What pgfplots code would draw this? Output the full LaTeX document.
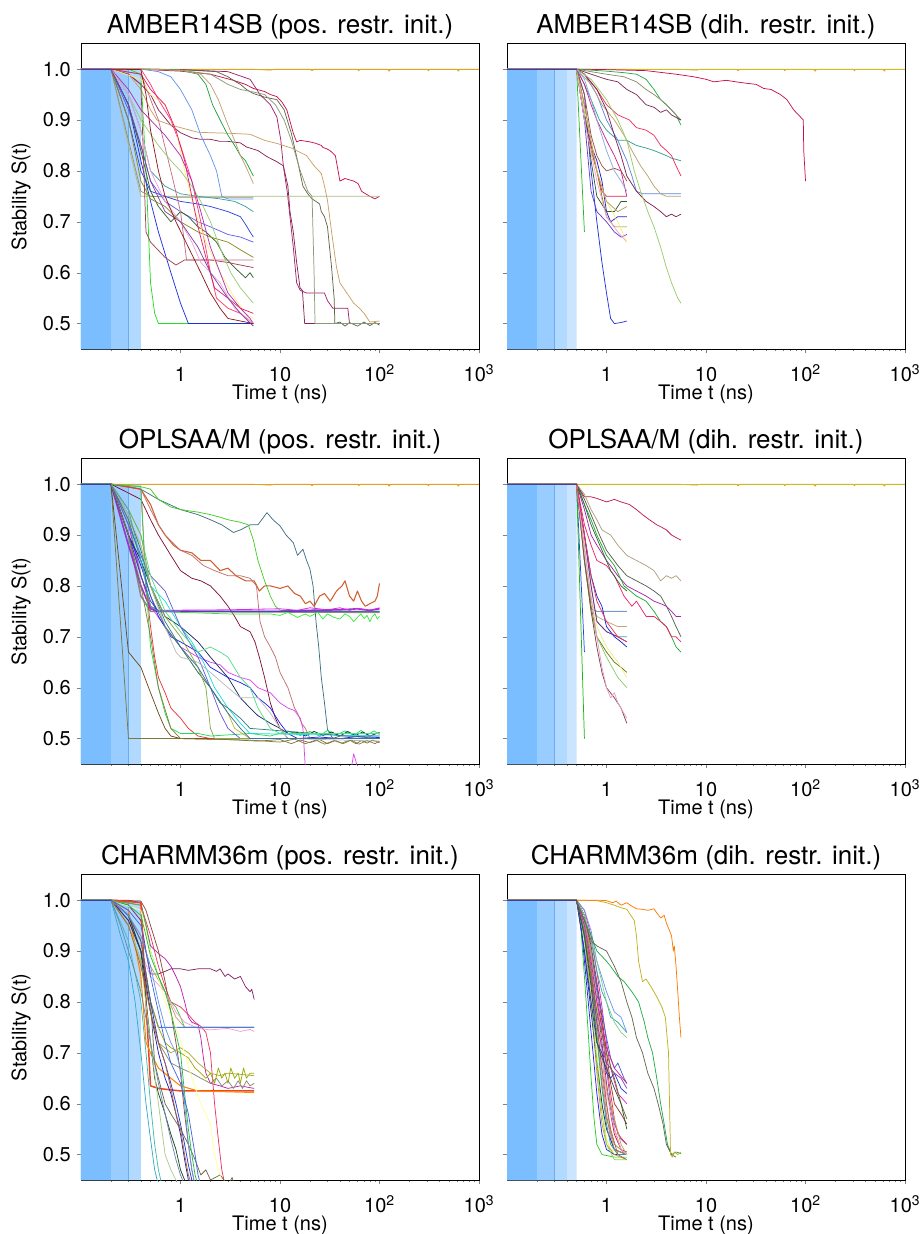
\documentclass[border=0pt]{standalone}
\usepackage{fontspec}
\setmainfont{TeX Gyre Heros}
\usepackage{pgfplots}
\pgfplotsset{compat=1.18}
\definecolor{bA}{HTML}{7ABEFF}
\definecolor{bB}{HTML}{99CCFF}
\definecolor{bC}{HTML}{B2D9FF}
\definecolor{bD}{HTML}{CCE5FF}
\definecolor{bE}{HTML}{6AAEF0}
\pgfplotsset{
  scale only axis, width=298.5pt, height=229pt,
  xmin=0.1, xmax=1000, ymin=0.45, ymax=1.05,
  xtick={1,10,100,1000}, xticklabels={1,10,10\textsuperscript{2},10\textsuperscript{3}},
  minor xtick={0.2,0.3,0.4,0.5,0.6,0.7,0.8,0.9,2,3,4,5,6,7,8,9,20,30,40,50,60,70,80,90,200,300,400,500,600,700,800,900},
  ytick={0.5,0.6,0.7,0.8,0.9,1.0},
  tick align=outside, tick pos=left,
  major tick length=3.2pt, minor tick length=1.8pt,
  axis line style={black, line width=0.6pt},
  tick label style={font=\fontsize{15}{18}\selectfont},
  xticklabel style={anchor=base, inner sep=0pt, yshift=-21pt},
  yticklabel style={anchor=east, xshift=-1pt},
  label style={font=\fontsize{15}{18}\selectfont},
  xlabel={Time t (ns)},
  xlabel style={at={(axis description cs:0.5,0)}, anchor=base, inner sep=0pt, yshift=-37.5pt},
  ylabel style={at={(axis description cs:0,0.5)}, anchor=center, yshift=45pt},
  title style={font=\fontsize{19.5}{23}\selectfont, at={(axis description cs:0.5,1)}, anchor=base, yshift=1.5pt},
  every axis plot/.append style={line width=0.55pt, line join=round},
  no markers,
}
\newcommand{\bandsPos}{%
 \addplot[draw=none, fill=bC] coordinates {(0.1,0.45) (0.1,1) (0.4,1) (0.4,0.45) (0.1,0.45)};
 \addplot[draw=none, fill=bB] coordinates {(0.1,0.45) (0.1,1) (0.3,1) (0.3,0.45) (0.1,0.45)};
 \addplot[draw=none, fill=bA] coordinates {(0.1,0.45) (0.1,1) (0.2,1) (0.2,0.45) (0.1,0.45)};
 \addplot[color=bE, line width=0.5pt] coordinates {(0.3,0.45) (0.3,1)};
}
\newcommand{\bandsDih}{%
 \addplot[draw=none, fill=bD] coordinates {(0.1,0.45) (0.1,1) (0.5,1) (0.5,0.45) (0.1,0.45)};
 \addplot[draw=none, fill=bC] coordinates {(0.1,0.45) (0.1,1) (0.4,1) (0.4,0.45) (0.1,0.45)};
 \addplot[draw=none, fill=bB] coordinates {(0.1,0.45) (0.1,1) (0.3,1) (0.3,0.45) (0.1,0.45)};
 \addplot[draw=none, fill=bA] coordinates {(0.1,0.45) (0.1,1) (0.2,1) (0.2,0.45) (0.1,0.45)};
 \addplot[color=bE, line width=0.5pt] coordinates {(0.3,0.45) (0.3,1)};
}
\definecolor{flatA}{HTML}{DAA520}
\definecolor{flatB}{HTML}{C8C020}
\definecolor{flatO}{HTML}{FF8C00}
\newcommand{\flatlines}[1]{%
 \addplot[color=flatO] coordinates {(0.1,1) (5,1) (8,0.998) (9,1) (20,1) (21,0.997) (22,1) (60,1) (62,0.997) (64,1) (120,1) (125,0.996) (130,1) (300,1) (310,0.997) (320,1) (600,1) (620,0.996) (640,1) (1000,1)};
 \addplot[color=#1, line width=0.9pt] coordinates {(0.1,1) (1000,1)};
}
\newcommand{\C}[2]{\definecolor{c#1}{HTML}{#1}\addplot[color=c#1] coordinates {#2};}
\newcommand{\CT}[3]{\definecolor{c#1}{HTML}{#1}\addplot[color=c#1, line width=#3] coordinates {#2};}
\begin{document}
\begin{tikzpicture}
\useasboundingbox (0,0) rectangle (690.75pt,-925.5pt);
% ================= AMBER pos =================
\begin{semilogxaxis}[ylabel={Stability S(t)}, yticklabels={0.5,0.6,0.7,0.8,0.9,1.0}, at={(60.75pt,-261.75pt)}, anchor=south west, title={AMBER14SB (pos. restr. init.)}]
\bandsPos
\flatlines{flatA}
\C{C8104E}{(0.1,1)(0.2,1)(0.4,1)(0.6,0.998)(1,0.996)(2,0.99)(3.4,0.978)(4.5,0.97)(5.4,0.962)(7,0.956)(8,0.95)(9.3,0.946)(10.5,0.935)(11.7,0.92)(12.5,0.9)(13.6,0.874)(14.7,0.857)(16,0.86)(20,0.857)(23,0.854)(26,0.85)(27,0.846)(29,0.844)(31.8,0.84)(36,0.83)(40,0.78)(45,0.785)(55,0.78)(61,0.775)(66,0.76)(71,0.756)(80,0.75)(90,0.745)(100,0.75)}
\C{8B2252}{(0.1,1)(0.2,1)(0.3,0.99)(0.4,0.97)(0.5,0.95)(0.6,0.92)(0.8,0.89)(1,0.875)(1.3,0.865)(1.6,0.862)(2,0.862)(2.5,0.858)(3,0.858)(4,0.855)(4.6,0.847)(6,0.84)(7.4,0.828)(9.3,0.818)(10.8,0.81)(12,0.77)(12.6,0.72)(13.6,0.68)(14.7,0.62)(15.9,0.57)(16.8,0.565)(17.7,0.5)(30,0.5)(100,0.5)}
\C{A0206A}{(0.1,1)(0.2,1)(0.4,1)(1,0.999)(3,0.995)(5,0.98)(6.3,0.95)(8,0.93)(9.3,0.906)(10.2,0.86)(10.8,0.81)(11.8,0.76)(12.6,0.71)(13.6,0.65)(14.7,0.58)(16,0.565)(18.5,0.56)(22,0.56)(28,0.56)(30,0.545)(34,0.53)(40,0.53)(48,0.53)(50,0.5)(100,0.5)}
\C{5E6648}{(0.1,1)(0.2,1)(0.4,1)(1,0.999)(2.3,0.995)(3,0.985)(3.6,0.975)(4,0.97)(4.6,0.96)(5.4,0.952)(7,0.945)(9.3,0.94)(11,0.92)(13,0.874)(15,0.82)(17,0.77)(19,0.755)(21,0.745)(23,0.74)(25,0.735)(26,0.72)(28,0.71)(30,0.69)(33,0.61)(35,0.55)(35.6,0.5)(40,0.503)(45,0.495)(50,0.502)(60,0.495)(70,0.503)(80,0.496)(90,0.502)(100,0.497)}
\C{8A9A78}{(0.1,1)(0.2,1)(0.4,1)(1,0.998)(2,0.99)(3,0.97)(4,0.96)(5.4,0.955)(7,0.95)(9,0.93)(11,0.9)(13,0.86)(16,0.8)(19,0.76)(21,0.75)(22,0.6)(22.5,0.5)(100,0.5)}
\C{C8A064}{(0.1,1)(0.2,1)(0.3,0.99)(0.4,0.96)(0.5,0.92)(0.58,0.9)(0.8,0.89)(1,0.885)(1.5,0.876)(2,0.875)(3,0.874)(5,0.872)(7,0.86)(9.3,0.854)(13,0.845)(18.5,0.83)(22,0.81)(26,0.795)(28,0.77)(30,0.742)(33,0.68)(37,0.61)(40,0.58)(47,0.56)(55,0.54)(63,0.53)(70,0.52)(80,0.503)(100,0.505)}
\C{A8BC84}{(0.1,1)(0.2,1)(0.3,0.85)(0.4,0.75)(1,0.75)(10,0.75)(100,0.75)}
\C{9C8C6C}{(0.1,1)(0.2,1)(0.3,0.86)(0.4,0.76)(0.5,0.75)(1,0.748)(5.4,0.748)}
\C{22DD22}{(0.1,1)(0.2,1)(0.3,1)(0.4,0.99)(0.45,0.8)(0.5,0.58)(0.55,0.52)(0.6,0.5)(5.4,0.5)}
\C{1E2EDD}{(0.1,1)(0.2,1)(0.3,0.93)(0.4,0.82)(0.5,0.74)(0.6,0.68)(0.8,0.6)(1,0.54)(1.2,0.5)(5.4,0.5)}
\C{3040E0}{(0.1,1)(0.2,1)(0.3,0.9)(0.4,0.8)(0.5,0.76)(0.7,0.75)(1,0.74)(1.5,0.735)(2,0.73)(3,0.72)(4,0.71)(4.5,0.695)(5,0.68)(5.4,0.67)}
\C{6060EE}{(0.1,1)(0.2,1)(0.3,0.92)(0.4,0.85)(0.5,0.78)(0.7,0.74)(1,0.72)(1.5,0.7)(2,0.69)(3,0.675)(4,0.67)(5.4,0.66)}
\C{3AA0A0}{(0.1,1)(0.2,1)(0.3,0.95)(0.4,0.88)(0.5,0.8)(0.7,0.77)(1,0.755)(1.5,0.75)(2.5,0.745)(3.5,0.74)(4.5,0.73)(5.4,0.72)}
\C{2F5F2F}{(0.1,1)(0.2,1)(0.3,0.93)(0.4,0.84)(0.5,0.76)(0.6,0.73)(0.8,0.7)(1,0.72)(1.2,0.71)(1.5,0.69)(1.8,0.68)(2.3,0.66)(2.8,0.63)(3.5,0.61)(4.5,0.59)(5,0.6)(5.4,0.59)}
\C{8A8A20}{(0.1,1)(0.2,1)(0.3,0.9)(0.4,0.78)(0.5,0.745)(0.7,0.73)(1,0.7)(1.5,0.68)(2,0.67)(3,0.66)(4,0.645)(5.4,0.63)}
\C{A04050}{(0.1,1)(0.2,1)(0.3,0.99)(0.4,0.97)(0.45,0.68)(0.5,0.66)(0.7,0.63)(0.9,0.615)(1.1,0.625)(2,0.625)(3,0.62)(4,0.615)(5.4,0.61)}
\C{C07080}{(0.1,1)(0.2,1)(0.4,0.99)(0.6,0.9)(0.8,0.8)(1,0.72)(1.15,0.625)(5.4,0.625)}
\C{6495ED}{(0.1,1)(0.2,1)(0.4,1)(0.6,0.995)(0.8,0.985)(1,0.96)(1.3,0.92)(1.6,0.87)(2,0.83)(2.3,0.8)(2.6,0.75)(3,0.745)(5.4,0.745)}
\C{20A040}{(0.1,1)(0.2,1)(0.4,1)(1,0.998)(1.5,0.99)(1.8,0.97)(2.1,0.93)(2.5,0.9)(3,0.87)(3.5,0.85)(4,0.83)(4.5,0.82)(5.4,0.79)}
\C{C0A070}{(0.1,1)(0.2,1)(0.4,1)(1,0.998)(1.6,0.99)(2,0.97)(2.4,0.94)(3,0.89)(3.5,0.86)(4,0.83)(4.5,0.81)(5.4,0.775)}
\C{FF3A70}{(0.1,1)(0.2,1)(0.4,1)(0.5,0.97)(0.6,0.94)(0.8,0.9)(1,0.85)(1.3,0.78)(1.6,0.7)(2,0.6)(2.3,0.55)(3,0.53)(4,0.52)(5.4,0.5)}
\C{F8EE80}{(0.1,1)(0.2,1)(0.4,0.98)(0.5,0.95)(0.7,0.93)(0.9,0.88)(1.1,0.8)(1.4,0.72)(1.8,0.66)(2.5,0.6)(3.5,0.55)(4.5,0.52)(5.4,0.51)}
\C{99CC77}{(0.1,1)(0.2,1)(0.3,0.95)(0.4,0.9)(0.6,0.85)(0.8,0.82)(1,0.8)(1.3,0.77)(1.6,0.74)(2,0.7)(2.6,0.64)(3.2,0.6)(4,0.57)(5.4,0.54)}
\C{B030B0}{(0.1,1)(0.2,1)(0.3,0.96)(0.4,0.92)(0.5,0.9)(0.7,0.87)(1,0.83)(1.3,0.78)(1.6,0.72)(2,0.65)(2.5,0.6)(3,0.56)(4,0.53)(5,0.51)(5.4,0.5)}
\C{E02070}{(0.1,1)(0.2,1)(0.4,0.99)(0.5,0.96)(0.7,0.93)(0.9,0.88)(1.1,0.82)(1.3,0.75)(1.5,0.69)(1.8,0.63)(2.2,0.57)(3,0.55)(4,0.53)(5.4,0.52)}
\C{F0A0E0}{(0.1,1)(0.2,1)(0.3,0.95)(0.4,0.88)(0.5,0.8)(0.7,0.74)(1,0.7)(1.3,0.66)(1.6,0.62)(2,0.6)(2.5,0.58)(3.5,0.53)(5.4,0.5)}
\C{8040A0}{(0.1,1)(0.2,1)(0.3,0.93)(0.4,0.85)(0.5,0.78)(0.7,0.72)(1,0.7)(1.5,0.65)(2,0.6)(3,0.55)(4,0.52)(5.4,0.495)}
\C{8B1A1A}{(0.1,1)(0.2,1)(0.4,0.999)(0.45,0.95)(0.5,0.88)(0.6,0.8)(0.7,0.75)(0.9,0.7)(1.2,0.65)(1.6,0.6)(2,0.56)(2.5,0.53)(3,0.51)(5.4,0.5)}
\CT{40409A}{(0.1,1)(0.2,1)}{0.9pt}
\end{semilogxaxis}
% ================= AMBER dih =================
\begin{semilogxaxis}[yticklabels={}, at={(380.25pt,-261.75pt)}, anchor=south west, title={AMBER14SB (dih. restr. init.)}]
\bandsDih
\flatlines{flatB}
\C{C8104E}{(0.1,1)(0.5,1)(1,0.999)(2.5,0.997)(5,0.99)(7.5,0.985)(10,0.98)(12,0.975)(16,0.978)(20,0.975)(26,0.972)(32,0.97)(38,0.962)(45,0.96)(56,0.95)(65,0.94)(76,0.92)(85,0.91)(92,0.903)(95,0.9)(96,0.84)(98,0.81)(100,0.78)}
\C{22AA44}{(0.1,1)(0.5,1)(0.7,0.998)(1,0.996)(1.5,0.993)(2,0.99)(2.5,0.98)(3,0.96)(3.5,0.94)(4,0.93)(4.5,0.92)(5,0.91)(5.6,0.89)}
\C{8B8B6B}{(0.1,1)(0.5,1)(0.7,0.995)(1,0.99)(1.5,0.985)(2,0.975)(2.5,0.96)(3,0.95)(3.5,0.94)(4,0.93)(5,0.91)(5.6,0.9)}
\C{7B2D5B}{(0.1,1)(0.5,1)(0.7,0.99)(1,0.98)(1.3,0.975)(1.6,0.96)(2,0.95)(2.5,0.93)(3,0.925)(3.5,0.915)(4,0.92)(4.5,0.91)(5,0.905)(5.6,0.9)}
\C{30A090}{(0.1,1)(0.5,1)(0.6,0.97)(0.7,0.94)(0.85,0.9)(1,0.88)(1.3,0.86)(1.6,0.86)(2,0.85)(2.5,0.845)(3,0.84)(4,0.83)(4.5,0.825)(5.6,0.82)}
\C{F03060}{(0.1,1)(0.5,1)(0.6,0.99)(0.8,0.96)(1,0.93)(1.3,0.91)(1.7,0.9)(2,0.885)(2.5,0.88)(3,0.87)(3.5,0.85)(4,0.84)(4.5,0.83)(5,0.81)(5.6,0.79)}
\C{5588DD}{(0.1,1)(0.5,1)(0.6,0.99)(0.8,0.95)(1,0.9)(1.3,0.86)(1.6,0.82)(1.8,0.79)(2,0.76)(2.3,0.755)(3,0.755)(4,0.755)(5.6,0.755)}
\C{BBA070}{(0.1,1)(0.5,1)(0.7,0.97)(0.9,0.93)(1.2,0.9)(1.5,0.87)(1.8,0.84)(2.2,0.81)(2.6,0.79)(3,0.77)(3.5,0.755)(4,0.75)(5.6,0.75)}
\C{802050}{(0.1,1)(0.5,1)(0.6,0.99)(0.8,0.96)(1,0.92)(1.2,0.87)(1.4,0.83)(1.6,0.79)(2,0.76)(2.5,0.74)(3,0.73)(3.5,0.72)(4,0.71)(4.5,0.715)(5,0.71)(5.6,0.715)}
\C{99CC66}{(0.1,1)(0.5,1)(0.7,0.98)(1,0.94)(1.3,0.9)(1.6,0.86)(1.9,0.8)(2.2,0.76)(2.6,0.72)(3,0.69)(3.5,0.65)(4,0.61)(4.5,0.58)(5.2,0.55)(5.6,0.54)}
\C{2233DD}{(0.1,1)(0.5,1)(0.6,0.95)(0.7,0.8)(0.8,0.7)(0.9,0.62)(1,0.56)(1.1,0.51)(1.2,0.5)(1.4,0.502)(1.6,0.505)}
\C{22BB22}{(0.1,1)(0.5,1)(0.6,0.68)}
\C{2020CC}{(0.1,1)(0.5,1)(0.6,0.9)(0.7,0.85)(0.8,0.82)(0.9,0.78)(1,0.72)(1.1,0.7)(1.3,0.71)(1.6,0.71)}
\C{808000}{(0.1,1)(0.5,1)(0.6,0.9)(0.7,0.84)(0.8,0.8)(0.9,0.75)(1,0.71)(1.2,0.69)(1.4,0.69)(1.6,0.69)}
\C{DD2255}{(0.1,1)(0.5,1)(0.6,0.93)(0.7,0.85)(0.8,0.8)(0.9,0.76)(1,0.75)(1.6,0.75)}
\C{2F5F2F}{(0.1,1)(0.5,1)(0.6,0.92)(0.7,0.82)(0.8,0.75)(1,0.72)(1.2,0.72)(1.4,0.74)(1.6,0.74)}
\C{6040CC}{(0.1,1)(0.5,1)(0.6,0.9)(0.7,0.76)(0.8,0.72)(1,0.7)(1.2,0.68)(1.4,0.67)(1.6,0.675)}
\C{FFA0D0}{(0.1,1)(0.5,1)(0.6,0.9)(0.8,0.78)(1,0.71)(1.3,0.68)(1.6,0.66)}
\C{F8EE80}{(0.1,1)(0.5,1)(0.6,0.92)(0.7,0.86)(0.8,0.8)(1,0.74)(1.3,0.7)(1.6,0.66)}
\C{994F44}{(0.1,1)(0.5,1)(0.6,0.95)(0.7,0.87)(0.8,0.83)(0.9,0.81)(1,0.8)(1.2,0.805)(1.4,0.8)(1.6,0.78)}
\C{B0A060}{(0.1,1)(0.5,1)(0.6,0.93)(0.7,0.86)(0.8,0.8)(1,0.74)(1.3,0.72)(1.6,0.73)}
\C{CC2288}{(0.1,1)(0.5,1)(0.6,0.97)(0.7,0.93)(0.8,0.9)(1,0.86)(1.2,0.83)(1.4,0.8)(1.6,0.75)}
\C{88AADD}{(0.1,1)(0.5,1)(0.6,0.98)(0.7,0.94)(0.8,0.9)(1,0.84)(1.2,0.8)(1.4,0.78)(1.6,0.76)}
\CT{40409A}{(0.1,1)(0.5,1)}{0.9pt}
\end{semilogxaxis}
% ================= OPLS pos =================
\begin{semilogxaxis}[ylabel={Stability S(t)}, yticklabels={0.5,0.6,0.7,0.8,0.9,1.0}, at={(60.75pt,-573pt)}, anchor=south west, title={OPLSAA/M (pos. restr. init.)}]
\bandsPos
\flatlines{flatA}
\C{3D6E80}{(0.1,1)(0.2,1)(0.3,0.995)(0.4,0.99)(0.6,0.97)(1,0.95)(1.5,0.94)(2,0.93)(2.6,0.92)(3.4,0.905)(4,0.91)(5,0.92)(6,0.92)(7.4,0.944)(8.5,0.93)(10,0.918)(11.5,0.9)(13.6,0.885)(15,0.86)(17,0.872)(18.5,0.85)(20,0.833)(21.5,0.8)(23,0.73)(24.5,0.68)(26,0.62)(28,0.57)(30,0.518)(34,0.5)(40,0.505)(100,0.505)}
\C{44CC22}{(0.1,1)(0.2,1)(0.4,0.995)(0.5,0.99)(0.6,0.97)(0.8,0.955)(1,0.95)(1.5,0.945)(2,0.94)(2.5,0.935)(3,0.93)(4,0.925)(4.8,0.92)(5.4,0.89)(6,0.85)(7,0.81)(8,0.78)(9,0.76)(10,0.752)(20,0.75)(100,0.75)}
\CT{D06030}{(0.1,1)(0.2,1)(0.4,0.99)(0.5,0.96)(0.6,0.92)(0.7,0.9)(0.85,0.88)(1,0.87)(1.3,0.865)(1.6,0.85)(2,0.85)(2.5,0.83)(3,0.835)(3.6,0.82)(4.5,0.81)(5.5,0.81)(6.2,0.79)(7,0.8)(8,0.8)(10,0.795)(12,0.8)(14,0.785)(16,0.78)(18,0.765)(20,0.77)(22,0.76)(25,0.78)(28,0.785)(32,0.77)(37,0.79)(42,0.8)(45,0.81)(50,0.78)(55,0.77)(60,0.79)(66,0.77)(72,0.76)(80,0.765)(90,0.77)(95,0.78)(100,0.805)}{0.8pt}
\C{C07070}{(0.1,1)(0.2,1)(0.4,0.99)(0.5,0.95)(0.6,0.92)(0.7,0.9)(1,0.87)(1.3,0.86)(1.7,0.84)(2.2,0.83)(3,0.82)(4,0.82)(5,0.815)(5.8,0.8)(6.3,0.73)(7,0.7)(8,0.68)(9,0.66)(10,0.63)(12,0.6)(14,0.56)(15,0.55)(16.5,0.53)(18,0.52)(20,0.5)(100,0.5)}
\C{801030}{(0.1,1)(0.2,1)(0.4,0.97)(0.5,0.93)(0.6,0.9)(0.8,0.86)(1,0.83)(1.3,0.815)(1.6,0.81)(2,0.8)(2.5,0.78)(3,0.76)(3.5,0.74)(4,0.72)(5,0.71)(5.6,0.69)(6.2,0.66)(7,0.62)(8,0.57)(9,0.54)(10,0.52)(12,0.5)(100,0.5)}
\C{DD44EE}{(0.1,1)(0.2,1)(0.3,0.9)(0.4,0.82)(0.5,0.76)(0.7,0.72)(1,0.68)(1.5,0.66)(2,0.65)(2.5,0.645)(3,0.63)(4,0.62)(5,0.615)(6,0.6)(8,0.59)(10,0.57)(12,0.56)(14,0.555)(16,0.54)(17,0.52)(17.5,0.48)(18,0.44)(30,0.40)(50,0.42)(55,0.47)(58,0.455)(62,0.43)(100,0.41)}
\CT{888888}{(0.1,1)(0.2,1)(0.3,0.9)(0.4,0.78)(0.5,0.75)(100,0.748)}{1.2pt}
\C{33EE33}{(0.1,1)(0.2,1)(0.3,0.93)(0.4,0.82)(0.5,0.76)(0.6,0.75)(1,0.748)(3,0.745)(8,0.745)(10,0.742)(12,0.748)(15,0.738)(18,0.745)(20,0.74)(24,0.748)(27,0.735)(30,0.745)(35,0.738)(40,0.735)(45,0.745)(50,0.74)(55,0.73)(60,0.738)(65,0.745)(70,0.736)(75,0.742)(80,0.73)(85,0.74)(90,0.745)(95,0.735)(100,0.74)}
\CT{9932CC}{(0.1,1)(0.2,1)(0.3,0.88)(0.4,0.8)(0.5,0.755)(0.6,0.75)(10,0.75)(20,0.752)(40,0.753)(60,0.755)(80,0.752)(100,0.755)}{1.2pt}
\CT{DD22EE}{(0.1,1)(0.2,1)(0.3,0.92)(0.4,0.82)(0.5,0.76)(0.6,0.752)(3,0.753)(10,0.755)(15,0.752)(20,0.757)(30,0.753)(40,0.757)(50,0.752)(60,0.756)(80,0.752)(100,0.757)}{0.6pt}
\C{7A7A3A}{(0.1,1)(0.2,1)(0.3,0.5)(0.5,0.5)(1,0.5)(3,0.498)(6,0.495)(10,0.498)(13,0.49)(16,0.497)(20,0.492)(25,0.498)(30,0.49)(36,0.496)(42,0.491)(50,0.497)(58,0.49)(66,0.496)(75,0.491)(85,0.497)(100,0.492)}
\C{6B4A1A}{(0.1,1)(0.2,1)(0.3,0.67)(0.4,0.64)(0.5,0.59)(0.6,0.55)(0.7,0.52)(0.8,0.505)(1,0.5)(100,0.5)}
\C{EE3333}{(0.1,1)(0.2,1)(0.4,0.99)(0.45,0.8)(0.5,0.72)(0.55,0.66)(0.6,0.62)(0.7,0.59)(0.8,0.56)(1,0.54)(1.2,0.52)(1.5,0.505)(2,0.5)(100,0.5)}
\C{22DD55}{(0.1,1)(0.2,1)(0.4,0.995)(0.45,0.8)(0.5,0.68)(0.6,0.6)(0.7,0.55)(0.8,0.52)(1,0.51)(1.5,0.51)(2,0.505)(5,0.51)(8,0.505)(12,0.515)(16,0.506)(20,0.514)(25,0.505)(30,0.516)(37,0.507)(45,0.515)(55,0.506)(65,0.516)(75,0.507)(88,0.515)(100,0.508)}
\C{1A2A5A}{(0.1,1)(0.2,1)(0.3,0.9)(0.4,0.85)(0.5,0.8)(0.7,0.74)(1,0.72)(1.5,0.69)(2,0.66)(3,0.62)(4,0.58)(5,0.56)(6,0.545)(8,0.53)(10,0.52)(12,0.51)(15,0.512)(18,0.505)(22,0.514)(27,0.506)(33,0.513)(40,0.505)(48,0.514)(57,0.506)(68,0.513)(80,0.505)(100,0.512)}
\C{2222EE}{(0.1,1)(0.2,1)(0.3,0.9)(0.4,0.84)(0.5,0.78)(0.6,0.74)(0.8,0.7)(1,0.69)(1.5,0.67)(2,0.64)(3,0.62)(4,0.61)(5,0.6)(6,0.58)(7,0.57)(8,0.56)(10,0.53)(12,0.51)(15,0.5)(25,0.503)(40,0.5)(60,0.504)(100,0.502)}
\C{22DDDD}{(0.1,1)(0.2,1)(0.3,0.92)(0.4,0.86)(0.5,0.8)(0.7,0.77)(1,0.72)(1.3,0.69)(1.7,0.65)(2.2,0.6)(3,0.56)(4,0.53)(5,0.51)(100,0.505)}
\C{BBBB22}{(0.1,1)(0.2,1)(0.3,0.93)(0.4,0.88)(0.5,0.8)(0.7,0.72)(1,0.68)(1.5,0.63)(2,0.6)(3,0.55)(3.5,0.52)(5,0.5)(100,0.5)}
\C{6A5ACD}{(0.1,1)(0.2,1)(0.3,0.92)(0.4,0.86)(0.5,0.82)(0.7,0.79)(1,0.72)(1.5,0.66)(2,0.6)(2.5,0.55)(3,0.52)(4,0.5)(100,0.5)}
\C{308080}{(0.1,1)(0.2,1)(0.3,0.94)(0.4,0.87)(0.5,0.8)(0.7,0.73)(1,0.68)(1.5,0.63)(2,0.6)(2.5,0.57)(3,0.56)(4,0.54)(5,0.52)(100,0.5)}
\C{BBBBBB}{(0.1,1)(0.2,1)(0.3,0.94)(0.4,0.88)(0.5,0.8)(0.7,0.72)(0.9,0.67)(1,0.66)(1.5,0.65)(2,0.63)(3,0.6)(4,0.58)(6,0.58)(8,0.55)(10,0.52)(12,0.5)(100,0.495)}
\C{55DD88}{(0.1,1)(0.2,1)(0.3,0.95)(0.4,0.9)(0.5,0.82)(0.7,0.75)(1,0.71)(1.5,0.67)(2,0.68)(2.5,0.67)(3,0.66)(4,0.62)(5,0.6)(6,0.56)(8,0.52)(10,0.51)(100,0.51)}
\C{88AA44}{(0.1,1)(0.2,1)(0.3,0.95)(0.4,0.9)(0.5,0.8)(0.7,0.74)(1,0.7)(1.5,0.64)(1.8,0.6)(2,0.52)(2.2,0.5)(100,0.5)}
\C{4070A0}{(0.1,1)(0.2,1)(0.3,0.93)(0.4,0.85)(0.5,0.78)(0.7,0.72)(1,0.68)(1.5,0.64)(2,0.6)(3,0.55)(4,0.52)(5,0.5)(100,0.5)}
\C{3344AA}{(0.1,1)(0.2,1)(0.3,0.9)(0.4,0.82)(0.5,0.77)(0.6,0.75)(1,0.75)(100,0.75)}
\C{5AA0AA}{(0.1,1)(0.2,1)(0.3,0.95)(0.4,0.85)(0.5,0.76)(0.6,0.75)(1,0.75)}
\C{8B7B3B}{(0.1,1)(0.2,1)(0.3,0.9)(0.4,0.8)(0.5,0.7)(0.6,0.6)(0.8,0.52)(1,0.5)(5,0.497)(10,0.493)(14,0.499)(18,0.49)(23,0.497)(28,0.489)(35,0.496)(43,0.49)(52,0.497)(62,0.489)(75,0.496)(90,0.49)(100,0.495)}
\CT{40409A}{(0.1,1)(0.2,1)}{0.9pt}
\end{semilogxaxis}
% ================= OPLS dih =================
\begin{semilogxaxis}[yticklabels={}, at={(380.25pt,-573pt)}, anchor=south west, title={OPLSAA/M (dih. restr. init.)}]
\bandsDih
\flatlines{flatB}
\C{C0184A}{(0.1,1)(0.5,1)(0.6,0.975)(0.7,0.975)(0.8,0.972)(1,0.965)(1.2,0.97)(1.4,0.965)(1.7,0.96)(2,0.95)(2.3,0.94)(2.7,0.93)(3.2,0.92)(3.6,0.915)(4,0.91)(4.5,0.9)(5,0.895)(5.6,0.89)}
\C{B0A080}{(0.1,1)(0.5,1)(0.6,0.98)(0.7,0.95)(0.8,0.93)(0.9,0.91)(1.1,0.9)(1.3,0.88)(1.6,0.86)(2,0.85)(2.5,0.84)(3,0.83)(3.5,0.81)(4,0.82)(4.5,0.815)(5,0.82)(5.6,0.81)}
\C{556050}{(0.1,1)(0.5,1)(0.6,0.97)(0.7,0.94)(0.85,0.9)(1,0.87)(1.3,0.84)(1.6,0.82)(2,0.81)(2.5,0.8)(3,0.79)(3.5,0.78)(4,0.76)(4.5,0.74)(5,0.72)(5.6,0.7)}
\C{AA22AA}{(0.1,1)(0.5,1)(0.6,0.95)(0.7,0.9)(0.8,0.88)(1,0.85)(1.3,0.82)(1.6,0.8)(2,0.79)(2.5,0.78)(3,0.77)(3.5,0.765)(4,0.76)(4.5,0.75)(5,0.74)(5.6,0.74)}
\C{22AA33}{(0.1,1)(0.5,1)(0.6,0.96)(0.7,0.93)(0.8,0.9)(1,0.86)(1.2,0.84)(1.5,0.8)(2,0.78)(2.5,0.77)(3,0.75)(3.5,0.73)(4,0.72)(4.5,0.7)(5,0.68)(5.6,0.67)}
\C{EE2266}{(0.1,1)(0.5,1)(0.6,0.92)(0.7,0.88)(0.8,0.85)(1,0.84)(1.2,0.82)(1.5,0.78)(1.8,0.76)(2,0.77)(2.5,0.74)(3,0.74)(3.5,0.73)(4,0.72)(4.5,0.7)(5,0.7)(5.6,0.69)}
\C{336633}{(0.1,1)(0.5,1)(0.6,0.96)(0.7,0.92)(0.9,0.87)(1.1,0.83)(1.4,0.8)(1.6,0.79)}
\CT{7799CC}{(0.1,1)(0.5,1)(0.6,0.85)(0.7,0.755)(0.8,0.75)(1,0.75)(1.3,0.75)(1.6,0.75)}{0.8pt}
\C{BBAA77}{(0.1,1)(0.5,1)(0.6,0.88)(0.7,0.77)(0.8,0.74)(1,0.73)(1.3,0.72)(1.6,0.72)}
\C{33AAAA}{(0.1,1)(0.5,1)(0.6,0.9)(0.7,0.8)(0.8,0.73)(1,0.71)(1.3,0.7)(1.6,0.7)}
\C{1122DD}{(0.1,1)(0.5,1)(0.6,0.9)(0.7,0.82)(0.8,0.78)(0.9,0.76)(1,0.72)(1.2,0.7)(1.4,0.69)(1.6,0.68)}
\C{2244EE}{(0.1,1)(0.5,1)(0.6,0.67)}
\C{11BB11}{(0.1,1)(0.5,1)(0.6,0.5)}
\C{882288}{(0.1,1)(0.5,1)(0.6,0.9)(0.7,0.8)(0.8,0.73)(1,0.71)(1.3,0.7)(1.6,0.69)}
\C{667711}{(0.1,1)(0.5,1)(0.6,0.85)(0.7,0.76)(0.8,0.7)(1,0.67)(1.2,0.65)(1.4,0.64)(1.6,0.63)}
\C{EEEE88}{(0.1,1)(0.5,1)(0.6,0.87)(0.7,0.78)(0.8,0.72)(1,0.68)(1.3,0.65)(1.6,0.62)}
\C{88CC66}{(0.1,1)(0.5,1)(0.6,0.85)(0.7,0.75)(0.8,0.7)(1,0.66)(1.3,0.62)(1.6,0.6)}
\C{804040}{(0.1,1)(0.5,1)(0.6,0.85)(0.7,0.75)(0.8,0.68)(0.9,0.63)(1,0.6)(1.2,0.58)(1.4,0.56)(1.6,0.53)}
\C{EE99CC}{(0.1,1)(0.5,1)(0.6,0.87)(0.7,0.78)(0.8,0.7)(0.9,0.64)(1,0.6)(1.1,0.58)(1.2,0.59)(1.3,0.57)(1.6,0.54)}
\C{EE3355}{(0.1,1)(0.5,1)(0.6,0.9)(0.7,0.82)(0.8,0.77)(1,0.73)(1.3,0.7)(1.6,0.69)}
\CT{40409A}{(0.1,1)(0.5,1)}{0.9pt}
\end{semilogxaxis}
% ================= CHARMM pos =================
\begin{semilogxaxis}[ylabel={Stability S(t)}, yticklabels={0.5,0.6,0.7,0.8,0.9,1.0}, at={(60.75pt,-885pt)}, anchor=south west, title={CHARMM36m (pos. restr. init.)}]
\bandsPos
\C{802060}{(0.1,1)(0.2,1)(0.3,0.99)(0.4,0.96)(0.45,0.9)(0.5,0.855)(0.6,0.855)(0.7,0.86)(0.8,0.865)(1,0.865)(1.2,0.862)(1.5,0.865)(2,0.865)(2.3,0.86)(2.5,0.865)(2.8,0.85)(3,0.855)(3.5,0.845)(4,0.85)(4.5,0.83)(5,0.82)(5.2,0.825)(5.5,0.805)}
\C{BB22AA}{(0.1,1)(0.2,1)(0.3,1)(0.4,0.995)(0.45,0.95)(0.5,0.91)(0.6,0.895)(0.7,0.885)(0.8,0.87)(0.9,0.85)(1,0.83)(1.1,0.8)(1.2,0.77)(1.3,0.76)(1.5,0.755)(1.6,0.73)(1.7,0.69)(1.8,0.66)(2,0.64)(2.5,0.635)(3,0.63)(4,0.635)(5.5,0.63)}
\C{EE3366}{(0.1,1)(0.2,1)(0.4,0.99)(0.5,0.93)(0.6,0.87)(0.7,0.83)(0.8,0.8)(1,0.79)(1.2,0.775)(1.4,0.76)(1.6,0.752)(1.8,0.74)(2,0.7)(2.2,0.6)(2.4,0.53)(2.6,0.47)(2.8,0.44)}
\C{8B4A3A}{(0.1,1)(0.2,1)(0.4,0.998)(0.45,0.98)(0.5,0.95)(0.6,0.9)(0.7,0.84)(0.8,0.78)(0.9,0.72)(1,0.66)(1.1,0.58)(1.2,0.52)(1.3,0.47)(1.4,0.44)}
\C{33CC33}{(0.1,1)(0.2,1)(0.4,0.99)(0.45,0.95)(0.5,0.9)(0.6,0.85)(0.7,0.82)(0.8,0.8)(0.9,0.79)(1,0.77)(1.1,0.75)(5.5,0.75)}
\C{EEA0DD}{(0.1,1)(0.2,1)(0.3,0.96)(0.4,0.9)(0.5,0.85)(0.7,0.82)(0.9,0.78)(1.1,0.76)(1.5,0.748)(2,0.745)(3,0.748)(4,0.742)(5,0.746)(5.5,0.742)}
\C{C8A064}{(0.1,1)(0.2,1)(0.3,0.97)(0.4,0.93)(0.5,0.87)(0.7,0.82)(0.9,0.77)(1.1,0.75)(5.5,0.75)}
\CT{5577DD}{(0.1,1)(0.2,1)(0.3,0.97)(0.4,0.9)(0.5,0.8)(0.6,0.75)(5.5,0.75)}{0.8pt}
\C{99AA00}{(0.1,1)(0.2,1)(0.3,0.96)(0.4,0.9)(0.5,0.8)(0.6,0.75)(0.7,0.72)(0.8,0.71)(1,0.7)(1.2,0.69)(1.4,0.67)(1.6,0.66)(1.8,0.65)(2,0.66)(2.2,0.64)(2.4,0.67)(2.6,0.65)(2.8,0.66)(3,0.64)(3.2,0.67)(3.5,0.65)(3.8,0.66)(4,0.64)(4.3,0.67)(4.6,0.65)(5,0.66)(5.5,0.66)}
\C{888877}{(0.1,1)(0.2,1)(0.3,0.95)(0.4,0.88)(0.5,0.78)(0.6,0.72)(0.8,0.68)(1,0.67)(1.3,0.66)(1.6,0.65)(2,0.64)(2.3,0.65)(2.6,0.635)(3,0.645)(3.4,0.63)(3.8,0.645)(4.2,0.63)(4.6,0.645)(5,0.635)(5.5,0.64)}
\C{AAAA33}{(0.1,1)(0.2,1)(0.3,0.95)(0.4,0.88)(0.5,0.78)(0.6,0.72)(0.8,0.7)(1,0.71)(1.2,0.7)(1.5,0.68)(2,0.66)(2.5,0.655)(3,0.66)(5.5,0.655)}
\CT{EE4422}{(0.1,1)(0.2,1)(0.4,0.995)(0.45,0.8)(0.5,0.635)(0.6,0.63)(1,0.625)(5.5,0.625)}{1.1pt}
\CT{FF8800}{(0.1,1)(0.2,1)(0.3,0.98)(0.4,0.85)(0.45,0.72)(0.5,0.7)(0.6,0.67)(0.8,0.65)(1,0.635)(1.5,0.625)(5.5,0.622)}{0.8pt}
\C{2233DD}{(0.1,1)(0.2,1)(0.3,0.97)(0.4,0.92)(0.5,0.8)(0.6,0.72)(0.7,0.68)(0.8,0.64)(0.9,0.6)(1,0.56)(1.1,0.52)(1.2,0.48)(1.3,0.45)(1.4,0.44)}
\C{2020AA}{(0.1,1)(0.2,1)(0.3,0.96)(0.4,0.9)(0.5,0.78)(0.6,0.7)(0.7,0.65)(0.8,0.62)(0.9,0.58)(1,0.54)(1.1,0.49)(1.2,0.45)(1.4,0.44)}
\C{33AACC}{(0.1,1)(0.2,1)(0.25,0.93)(0.3,0.88)(0.35,0.8)(0.4,0.7)(0.45,0.6)(0.5,0.53)(0.55,0.47)(0.6,0.44)}
\C{44BBAA}{(0.1,1)(0.2,1)(0.3,0.92)(0.4,0.8)(0.45,0.7)(0.5,0.6)(0.55,0.52)(0.6,0.47)(0.65,0.44)}
\C{224422}{(0.1,1)(0.2,1)(0.3,0.97)(0.4,0.9)(0.5,0.72)(0.55,0.65)(0.6,0.62)(0.7,0.58)(0.8,0.54)(0.9,0.51)(1,0.47)(1.1,0.45)(1.2,0.44)}
\C{6B6B4B}{(0.1,1)(0.2,1)(0.3,0.97)(0.4,0.92)(0.5,0.8)(0.55,0.68)(0.6,0.65)(0.7,0.6)(0.8,0.58)(1,0.55)(1.2,0.52)(1.4,0.49)(1.6,0.46)(1.8,0.47)(2,0.45)(2.5,0.46)(3,0.44)(3.3,0.455)(3.5,0.44)}
\C{AACC88}{(0.1,1)(0.2,1)(0.3,0.95)(0.4,0.88)(0.5,0.72)(0.6,0.6)(0.7,0.5)(0.8,0.47)(0.9,0.45)(1,0.44)}
\C{FFFF99}{(0.1,1)(0.2,1)(0.4,0.98)(0.5,0.9)(0.7,0.8)(0.9,0.75)(1.1,0.7)(1.3,0.65)(1.6,0.6)(2,0.56)(2.2,0.5)(2.4,0.47)(2.6,0.45)}
\C{6495ED}{(0.1,1)(0.2,1)(0.3,0.97)(0.4,0.93)(0.5,0.87)(0.6,0.8)(0.7,0.75)(0.8,0.72)(0.9,0.7)(1,0.67)(1.1,0.6)(1.2,0.52)(1.3,0.47)(1.4,0.44)}
\C{6688AA}{(0.1,1)(0.2,1)(0.25,0.95)(0.3,0.9)(0.4,0.82)(0.5,0.72)(0.6,0.64)(0.7,0.58)(0.8,0.53)(0.9,0.49)(1,0.46)(1.1,0.44)}
\C{AA6633}{(0.1,1)(0.2,1)(0.3,0.95)(0.4,0.87)(0.5,0.78)(0.6,0.72)(0.7,0.68)(0.8,0.63)(0.9,0.58)(1,0.55)(1.1,0.5)(1.2,0.46)(1.3,0.44)}
\C{22BB44}{(0.1,1)(0.2,1)(0.3,0.99)(0.4,0.97)(0.45,0.93)(0.5,0.89)(0.6,0.85)(0.7,0.82)(0.8,0.78)(1,0.7)(1.1,0.62)(1.2,0.55)(1.3,0.5)(1.4,0.46)(1.5,0.44)}
\C{4466DD}{(0.1,1)(0.2,1)(0.3,0.98)(0.4,0.95)(0.5,0.85)(0.6,0.78)(0.7,0.72)(0.8,0.68)(1,0.64)(1.2,0.58)(1.4,0.5)(1.5,0.46)(1.6,0.44)}
\CT{40409A}{(0.1,1)(0.2,1)}{0.9pt}
\end{semilogxaxis}
% ================= CHARMM dih =================
\begin{semilogxaxis}[yticklabels={}, at={(380.25pt,-885pt)}, anchor=south west, title={CHARMM36m (dih. restr. init.)}]
\bandsDih
\C{22CC22}{(0.1,1)(0.5,1)(0.55,0.95)(0.6,0.85)(0.65,0.75)(0.7,0.65)(0.75,0.57)(0.8,0.52)(0.9,0.5)(1.2,0.495)(1.6,0.495)}
\C{2222EE}{(0.1,1)(0.5,1)(0.55,0.96)(0.6,0.88)(0.7,0.74)(0.8,0.62)(0.9,0.54)(1,0.51)(1.2,0.5)(1.6,0.5)}
\C{EEEE55}{(0.1,1)(0.5,1)(0.6,0.93)(0.7,0.82)(0.8,0.7)(0.9,0.6)(1,0.53)(1.1,0.51)(1.6,0.5)}
\C{EE66AA}{(0.1,1)(0.5,1)(0.6,0.95)(0.7,0.86)(0.8,0.76)(0.9,0.66)(1,0.58)(1.1,0.53)(1.2,0.51)(1.6,0.5)}
\C{CC1144}{(0.1,1)(0.5,1)(0.6,0.96)(0.7,0.88)(0.8,0.8)(0.9,0.72)(1,0.64)(1.1,0.58)(1.2,0.54)(1.4,0.51)(1.6,0.505)}
\C{7755DD}{(0.1,1)(0.5,1)(0.6,0.97)(0.7,0.9)(0.8,0.82)(0.9,0.74)(1,0.67)(1.1,0.6)(1.2,0.56)(1.4,0.53)(1.6,0.52)}
\C{CC9933}{(0.1,1)(0.5,1)(0.6,0.93)(0.7,0.8)(0.8,0.66)(0.9,0.56)(1,0.52)(1.2,0.5)(1.6,0.49)}
\C{999933}{(0.1,1)(0.5,1)(0.6,0.94)(0.7,0.84)(0.8,0.74)(0.9,0.64)(1,0.57)(1.2,0.52)(1.6,0.5)}
\C{222288}{(0.1,1)(0.5,1)(0.6,0.9)(0.7,0.78)(0.8,0.68)(0.85,0.64)(0.9,0.6)(1,0.55)(1.2,0.51)(1.6,0.5)}
\C{EE3333}{(0.1,1)(0.5,1)(0.6,0.97)(0.7,0.9)(0.8,0.83)(0.9,0.76)(1,0.68)(1.1,0.62)(1.2,0.57)(1.3,0.54)(1.6,0.52)}
\C{993399}{(0.1,1)(0.5,1)(0.6,0.95)(0.7,0.87)(0.8,0.78)(0.9,0.7)(1,0.63)(1.2,0.55)(1.4,0.51)(1.6,0.5)}
\C{999999}{(0.1,1)(0.5,1)(0.6,0.96)(0.7,0.89)(0.8,0.8)(0.9,0.7)(1,0.6)(1.1,0.54)(1.2,0.51)(1.6,0.5)}
\C{AA6644}{(0.1,1)(0.5,1)(0.6,0.95)(0.7,0.86)(0.8,0.76)(0.9,0.67)(1,0.6)(1.1,0.55)(1.3,0.5)(1.6,0.49)}
\C{88DD44}{(0.1,1)(0.5,1)(0.6,0.92)(0.7,0.8)(0.8,0.68)(0.9,0.58)(1,0.52)(1.2,0.49)(1.6,0.49)}
\C{993333}{(0.1,1)(0.5,1)(0.6,0.97)(0.7,0.91)(0.8,0.84)(0.9,0.77)(1,0.7)(1.1,0.64)(1.2,0.6)(1.4,0.58)(1.6,0.56)}
\C{339999}{(0.1,1)(0.5,1)(0.6,0.94)(0.7,0.84)(0.8,0.73)(0.9,0.63)(1,0.56)(1.1,0.52)(1.3,0.5)(1.6,0.5)}
\C{DD22BB}{(0.1,1)(0.5,1)(0.6,0.98)(0.7,0.93)(0.8,0.86)(0.9,0.79)(1,0.72)(1.1,0.67)(1.3,0.62)(1.6,0.6)}
\C{4466CC}{(0.1,1)(0.5,1)(0.6,0.96)(0.7,0.9)(0.8,0.83)(1,0.73)(1.1,0.69)(1.2,0.67)(1.3,0.68)(1.5,0.65)(1.6,0.64)}
\C{BBAA55}{(0.1,1)(0.5,1)(0.6,0.96)(0.7,0.9)(0.8,0.8)(0.9,0.7)(1,0.63)(1.2,0.57)(1.4,0.52)(1.6,0.5)}
\C{FFAACC}{(0.1,1)(0.5,1)(0.6,0.95)(0.7,0.88)(0.8,0.79)(0.9,0.7)(1,0.62)(1.2,0.55)(1.4,0.51)(1.6,0.5)}
\C{2233DD}{(0.1,1)(0.5,1)(0.6,0.9)(0.7,0.8)(0.8,0.72)(0.9,0.7)(1,0.66)(1.1,0.65)(1.2,0.66)(1.4,0.63)(1.6,0.62)}
\C{8844AA}{(0.1,1)(0.5,1)(0.6,0.93)(0.7,0.84)(0.8,0.76)(0.9,0.71)(1,0.68)(1.2,0.66)(1.4,0.65)(1.6,0.63)}
\C{33AAAA}{(0.1,1)(0.5,1)(0.6,0.97)(0.7,0.92)(0.8,0.86)(0.9,0.82)(1,0.8)(1.1,0.77)(1.3,0.76)(1.6,0.74)}
\C{6495ED}{(0.1,1)(0.5,1)(0.6,0.98)(0.7,0.94)(0.8,0.88)(1,0.82)(1.2,0.78)(1.4,0.77)(1.6,0.74)}
\C{88CC88}{(0.1,1)(0.5,1)(0.6,0.97)(0.8,0.88)(1,0.8)(1.2,0.76)(1.4,0.74)(1.6,0.73)}
\C{667722}{(0.1,1)(0.5,1)(0.6,0.93)(0.8,0.78)(1,0.7)(1.2,0.65)(1.4,0.6)(1.6,0.57)}
\C{335533}{(0.1,1)(0.5,1)(0.6,0.93)(0.7,0.83)(0.8,0.72)(0.9,0.69)(1,0.67)(1.2,0.63)(1.4,0.6)(1.6,0.55)}
\C{CC2299}{(0.1,1)(0.5,1)(0.6,0.95)(0.7,0.88)(0.8,0.8)(1,0.71)(1.2,0.67)(1.6,0.64)}
\C{22AA44}{(0.1,1)(0.5,1)(0.6,0.96)(0.7,0.93)(0.8,0.9)(1,0.88)(1.1,0.87)(1.3,0.85)(1.5,0.84)(1.8,0.82)(2.1,0.8)(2.4,0.76)(2.6,0.73)(2.9,0.7)(3.2,0.65)(3.5,0.6)(3.8,0.56)(4.1,0.52)(4.5,0.5)(5,0.505)(5.6,0.502)}
\C{666655}{(0.1,1)(0.5,1)(0.6,0.96)(0.7,0.92)(0.8,0.91)(1,0.9)(1.2,0.87)(1.4,0.84)(1.6,0.8)(1.8,0.77)(2,0.73)(2.3,0.7)(2.6,0.66)(3,0.63)(3.3,0.6)(3.7,0.56)(4,0.52)(4.5,0.5)(5,0.495)}
\C{C0B020}{(0.1,1)(0.5,1)(0.8,0.999)(1,0.995)(1.2,0.99)(1.4,0.985)(1.6,0.982)(1.9,0.96)(2,0.93)(2.1,0.88)(2.3,0.84)(2.5,0.845)(2.8,0.83)(3.2,0.81)(3.6,0.79)(3.9,0.77)(4.2,0.7)(4.35,0.55)(4.4,0.5)(4.6,0.495)(4.8,0.505)(5.2,0.5)(5.6,0.505)}
\C{FF7700}{(0.1,1)(0.5,1)(0.8,1)(1,0.999)(1.15,0.995)(1.25,0.998)(1.4,0.99)(1.6,0.995)(1.8,0.988)(2,0.983)(2.3,0.982)(2.6,0.98)(3,0.983)(3.2,0.975)(3.5,0.965)(3.8,0.97)(4,0.955)(4.3,0.94)(4.5,0.93)(4.7,0.9)(4.8,0.91)(5,0.87)(5.2,0.82)(5.4,0.77)(5.6,0.73)}
\CT{40409A}{(0.1,1)(0.5,1)}{0.9pt}
\end{semilogxaxis}
\end{tikzpicture}
\end{document}
